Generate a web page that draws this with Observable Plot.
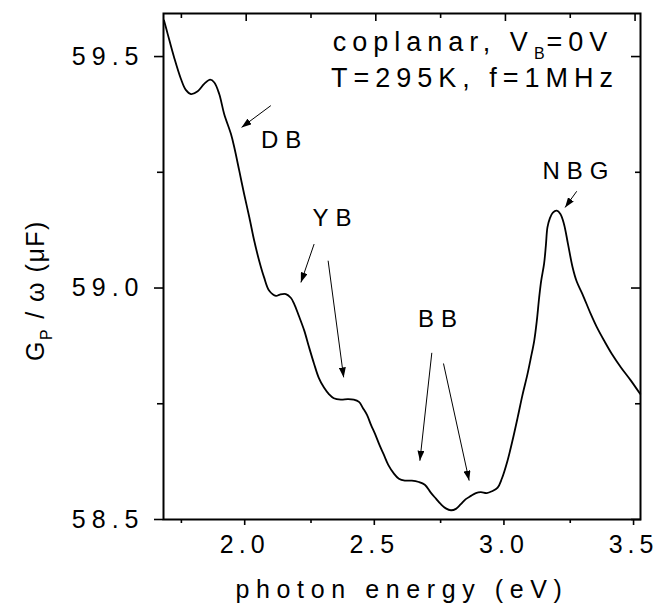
<!DOCTYPE html>
<html><head><meta charset="utf-8">
<script src="https://cdn.jsdelivr.net/npm/d3@7"></script>
<script src="https://cdn.jsdelivr.net/npm/@observablehq/plot@0.6"></script>
<style>
html,body{margin:0;padding:0;background:#fff;}
g[aria-label="x-axis tick label"]{letter-spacing:5px;}
g[aria-label="y-axis tick label"]{letter-spacing:6px;}
</style></head><body><div id="chart"></div>
<script>
// photon energy (eV)
const energy = [1.683,1.697,1.722,1.748,1.767,1.787,1.813,1.838,1.861,1.877,
  1.896,1.915,1.941,1.954,1.973,1.992,2.012,2.031,2.050,2.069,
  2.089,2.115,2.130,2.153,2.172,2.185,2.203,2.224,2.242,2.262,
  2.280,2.300,2.319,2.338,2.365,2.392,2.415,2.435,2.450,2.466,
  2.481,2.497,2.514,2.530,2.548,2.570,2.589,2.612,2.639,2.666,
  2.689,2.712,2.732,2.751,2.770,2.790,2.809,2.828,2.847,2.867,
  2.886,2.905,2.928,2.948,2.970,2.986,3.008,3.027,3.047,3.065,
  3.085,3.098,3.111,3.121,3.130,3.138,3.149,3.156,3.162,3.171,
  3.183,3.198,3.212,3.226,3.241,3.259,3.275,3.297,3.329,3.352,
  3.381,3.410,3.445,3.484,3.520];
// G_P / omega (uF)
const conductance = [59.578,59.549,59.498,59.452,59.428,59.419,59.425,59.441,59.450,59.444,
  59.419,59.376,59.333,59.304,59.254,59.203,59.153,59.102,59.059,59.023,
  58.994,58.983,58.986,58.987,58.979,58.966,58.940,58.908,58.873,58.836,
  58.806,58.785,58.771,58.762,58.759,58.760,58.759,58.754,58.741,58.726,
  58.705,58.685,58.661,58.641,58.618,58.599,58.588,58.584,58.584,58.581,
  58.575,58.558,58.545,58.533,58.524,58.520,58.523,58.533,58.544,58.551,
  58.557,58.559,58.557,58.561,58.569,58.588,58.627,58.670,58.720,58.767,
  58.814,58.849,58.886,58.929,58.979,59.016,59.052,59.092,59.131,59.150,
  59.163,59.167,59.160,59.138,59.096,59.045,59.014,58.987,58.944,58.916,
  58.886,58.858,58.829,58.800,58.771];

const xDomain = [1.681, 3.521];
const yDomain = [58.5, 59.593];
const xMajorTicks = [2.0, 2.5, 3.0, 3.5];
const xMinorTicks = [1.75, 2.25, 2.75, 3.25];
const yMajorTicks = [58.5, 59.0, 59.5];
const yMinorTicks = [58.75, 59.25];

const bandNames = ["DB", "YB", "BB", "NBG"];
const bandLabelX = [2.057, 2.256, 2.663, 3.143];
const bandLabelY = [59.303, 59.135, 58.915, 59.236];

const arrowX1 = [2.095, 2.262, 2.316, 2.716, 2.761, 3.275];
const arrowY1 = [59.394, 59.095, 59.059, 58.860, 58.837, 59.209];
const arrowX2 = [1.982, 2.211, 2.376, 2.670, 2.860, 3.230];
const arrowY2 = [59.347, 59.012, 58.807, 58.627, 58.584, 59.174];

const legendLines = ["coplanar, V_{B}=0V", "T=295K, f=1MHz"];
const legendX = [2.334, 2.327];
const legendY = [59.511, 59.434];

const xTitle = "photon energy (eV)";
const yTitle = "G_{P} / ω (μF)";

const curve = energy.map((e, i) => ({e, g: conductance[i]}));
const labels = bandNames.map((n, i) => ({n, x: bandLabelX[i], y: bandLabelY[i]}));
const arrows = arrowX1.map((x1, i) => ({x1, y1: arrowY1[i], x2: arrowX2[i], y2: arrowY2[i]}));
const legend = legendLines.map((t, i) => ({t, x: legendX[i], y: legendY[i]}));
const fmt = d3.format(".1f");

const chart = Plot.plot({
  width: 658, height: 605,
  marginLeft: 163, marginRight: 18, marginTop: 13, marginBottom: 86,
  style: {fontFamily: "'Liberation Sans', Arial, sans-serif", fontSize: "25px", color: "black", background: "white"},
  x: {domain: xDomain, label: null},
  y: {domain: yDomain, label: null},
  marks: [
    Plot.axisX(xMajorTicks, {anchor: "bottom", tickSize: 6, tickPadding: 10, tickFormat: fmt, fontSize: 25, dx: -1.5, strokeWidth: 1.6, label: null}),
    Plot.axisX(xMinorTicks, {anchor: "bottom", tickSize: 4, tickFormat: () => "", strokeWidth: 1.6, label: null}),
    Plot.axisX(xMajorTicks, {anchor: "top", tickSize: -7, tickFormat: () => "", strokeWidth: 1.6, label: null}),
    Plot.axisX(xMinorTicks, {anchor: "top", tickSize: -4, tickFormat: () => "", strokeWidth: 1.6, label: null}),
    Plot.axisY(yMajorTicks, {anchor: "left", tickSize: 9, tickPadding: 10, tickFormat: fmt, fontSize: 25, strokeWidth: 1.6, label: null}),
    Plot.axisY(yMinorTicks, {anchor: "left", tickSize: 6, tickFormat: () => "", strokeWidth: 1.6, label: null}),
    Plot.axisY(yMajorTicks, {anchor: "right", tickSize: -10, tickFormat: () => "", strokeWidth: 1.6, label: null}),
    Plot.axisY(yMinorTicks, {anchor: "right", tickSize: -6, tickFormat: () => "", strokeWidth: 1.6, label: null}),
    Plot.frame({stroke: "black", strokeWidth: 2}),
    Plot.line(curve, {x: "e", y: "g", stroke: "black", strokeWidth: 1.8, curve: "catmull-rom"}),
    Plot.link(arrows, {x1: "x1", y1: "y1", x2: "x2", y2: "y2", stroke: "black", strokeWidth: 1}),
    Plot.text(labels, {x: "x", y: "y", text: "n", textAnchor: "start", lineAnchor: "bottom", fontSize: 24, fill: "black"}),
    Plot.text(legend, {x: "x", y: "y", text: "t", textAnchor: "start", lineAnchor: "bottom", fontSize: 27, fill: "black"}),
    Plot.text([xTitle], {frameAnchor: "bottom", text: d => d, textAnchor: "middle", dy: 78, dx: 0, lineAnchor: "bottom", fontSize: 25, fill: "black"}),
    Plot.text([yTitle], {frameAnchor: "left", text: d => d, textAnchor: "middle", rotate: -90, dx: -120, dy: 24, lineAnchor: "bottom", fontSize: 25, fill: "black"})
  ]
});

// letter spacing per text kind
const spacing = new Map();
bandNames.forEach(n => spacing.set(n, "7px"));
legendLines.forEach(t => spacing.set(t, "6px"));
spacing.set(xTitle, "6.6px");
spacing.set(yTitle, "1.5px");
d3.select(chart).selectAll("text").each(function () {
  const s = spacing.get(this.textContent);
  if (s) this.style.letterSpacing = s;
});

// subscripts
d3.select(chart).selectAll("text").each(function () {
  const t = this.textContent;
  if (!/_\{/.test(t)) return;
  const parts = t.split(/_\{([^}]*)\}/);
  const sel = d3.select(this);
  sel.text(null);
  let shifted = false;
  parts.forEach((p, i) => {
    if (!p) return;
    const ts = sel.append("tspan").text(p);
    if (i % 2 === 1) { ts.attr("font-size", 16).attr("dy", 8).style("letter-spacing", "2px"); shifted = true; }
    else if (shifted) { ts.attr("dy", -8); shifted = false; }
  });
});

// filled arrowheads
const defs = d3.select(chart).append("defs");
defs.append("marker").attr("id", "ahead").attr("viewBox", "0 0 10 7")
  .attr("refX", 10).attr("refY", 3.5).attr("markerWidth", 10).attr("markerHeight", 7)
  .attr("markerUnits", "userSpaceOnUse").attr("orient", "auto")
  .append("path").attr("d", "M0,0L10,3.5L0,7Z").attr("fill", "black");
d3.select(chart).selectAll('g[aria-label="link"] path').attr("marker-end", "url(#ahead)");

document.getElementById("chart").append(chart);
</script></body></html>
